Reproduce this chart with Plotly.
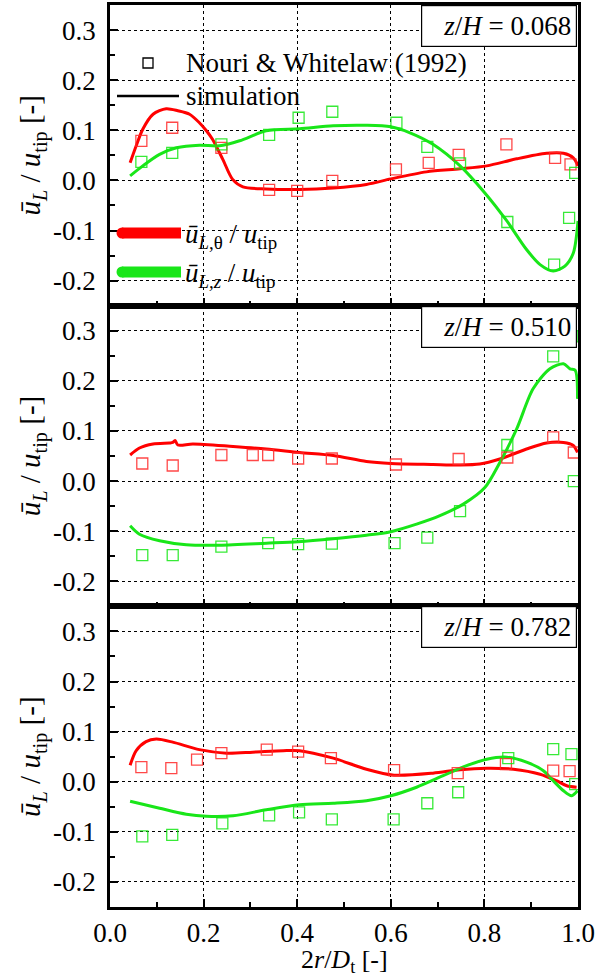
import plotly.graph_objects as go
from plotly.subplots import make_subplots

# ---------------------------------------------------------------------------
# Liquid-phase mean velocity profiles at three heights z/H
# (tangential and axial component, normalised by impeller tip speed)
# ---------------------------------------------------------------------------
heights = ["0.068", "0.510", "0.782"]

# ---- z/H = 0.068 ----
exp_x_theta_068 = [0.067, 0.133, 0.238, 0.340, 0.400, 0.475, 0.611, 0.681, 0.745, 0.847, 0.951, 0.984]
exp_theta_068 = [0.079, 0.105, 0.065, -0.019, -0.021, -0.001, 0.022, 0.035, 0.051, 0.072, 0.045, 0.032]
exp_x_z_068 = [0.067, 0.133, 0.238, 0.340, 0.403, 0.475, 0.612, 0.678, 0.748, 0.849, 0.949, 0.981, 0.994]
exp_z_068 = [0.037, 0.055, 0.072, 0.091, 0.125, 0.137, 0.115, 0.067, 0.034, -0.083, -0.168, -0.075, 0.015]

sim_x_theta_068 = [0.043, 0.056, 0.070, 0.092, 0.120, 0.145, 0.170, 0.191, 0.206, 0.219, 0.241, 0.262, 0.284,
                   0.334, 0.405, 0.477, 0.548, 0.600, 0.676, 0.748, 0.805, 0.869, 0.933, 0.969, 0.990, 1.000]
sim_theta_068 = [0.035, 0.069, 0.102, 0.132, 0.143, 0.139, 0.132, 0.115, 0.099, 0.082, 0.042, 0.002, -0.013,
                 -0.017, -0.018, -0.015, -0.008, 0.003, 0.017, 0.023, 0.029, 0.043, 0.054, 0.054, 0.045, 0.029]
sim_x_z_068 = [0.043, 0.070, 0.106, 0.142, 0.191, 0.234, 0.277, 0.334, 0.405, 0.477, 0.548, 0.600, 0.641,
               0.690, 0.748, 0.801, 0.848, 0.890, 0.919, 0.947, 0.972, 0.990, 1.000]
sim_z_068 = [0.009, 0.029, 0.052, 0.065, 0.070, 0.069, 0.079, 0.099, 0.103, 0.109, 0.110, 0.107, 0.095,
             0.072, 0.029, -0.025, -0.081, -0.138, -0.168, -0.181, -0.171, -0.145, -0.081]

# ---- z/H = 0.510 ----
exp_x_theta_510 = [0.069, 0.134, 0.238, 0.305, 0.338, 0.402, 0.474, 0.611, 0.745, 0.849, 0.947, 0.991]
exp_theta_510 = [0.035, 0.031, 0.052, 0.052, 0.052, 0.045, 0.045, 0.033, 0.044, 0.047, 0.087, 0.057]
exp_x_z_510 = [0.069, 0.134, 0.238, 0.338, 0.402, 0.474, 0.608, 0.678, 0.748, 0.849, 0.947, 0.991, 1.010]
exp_z_510 = [-0.148, -0.148, -0.131, -0.124, -0.126, -0.125, -0.124, -0.113, -0.060, 0.072, 0.249, 0.000, 0.289]

sim_x_theta_510 = [0.043, 0.063, 0.092, 0.127, 0.134, 0.139, 0.145, 0.177, 0.263, 0.334, 0.405, 0.477, 0.548,
                   0.600, 0.690, 0.748, 0.790, 0.833, 0.890, 0.933, 0.969, 0.990, 0.999]
sim_theta_510 = [0.052, 0.066, 0.074, 0.076, 0.077, 0.081, 0.072, 0.074, 0.069, 0.064, 0.057, 0.051, 0.039,
                 0.035, 0.033, 0.032, 0.034, 0.044, 0.064, 0.076, 0.077, 0.071, 0.057]
sim_x_z_510 = [0.043, 0.063, 0.106, 0.163, 0.234, 0.334, 0.402, 0.477, 0.548, 0.600, 0.655, 0.705, 0.755,
               0.801, 0.833, 0.869, 0.904, 0.940, 0.969, 0.983, 0.994, 0.999]
sim_z_510 = [-0.089, -0.106, -0.119, -0.127, -0.128, -0.124, -0.121, -0.115, -0.108, -0.101, -0.086, -0.069,
             -0.046, -0.013, 0.037, 0.104, 0.184, 0.224, 0.234, 0.224, 0.221, 0.164]

# ---- z/H = 0.782 ----
exp_x_theta_782 = [0.067, 0.131, 0.186, 0.238, 0.335, 0.402, 0.472, 0.607, 0.743, 0.846, 0.947, 0.982]
exp_theta_782 = [0.029, 0.027, 0.044, 0.057, 0.064, 0.060, 0.047, 0.023, 0.017, 0.035, 0.022, 0.021]
exp_x_z_782 = [0.069, 0.133, 0.240, 0.340, 0.404, 0.474, 0.606, 0.678, 0.744, 0.851, 0.947, 0.986, 0.994]
exp_z_782 = [-0.109, -0.106, -0.083, -0.067, -0.061, -0.075, -0.075, -0.043, -0.021, 0.047, 0.065, 0.055, -0.005]

sim_x_theta_782 = [0.043, 0.056, 0.077, 0.099, 0.134, 0.191, 0.249, 0.305, 0.370, 0.405, 0.477, 0.548, 0.607,
                   0.690, 0.748, 0.805, 0.862, 0.919, 0.954, 0.976, 0.997]
sim_theta_782 = [0.033, 0.062, 0.080, 0.085, 0.079, 0.064, 0.057, 0.059, 0.062, 0.062, 0.047, 0.025, 0.013,
                 0.017, 0.024, 0.027, 0.025, 0.015, 0.002, -0.008, -0.011]
sim_x_z_782 = [0.043, 0.106, 0.163, 0.206, 0.263, 0.334, 0.405, 0.477, 0.548, 0.600, 0.655, 0.712, 0.762,
               0.805, 0.848, 0.890, 0.926, 0.947, 0.969, 0.986, 0.999]
sim_z_782 = [-0.039, -0.053, -0.065, -0.069, -0.068, -0.056, -0.046, -0.043, -0.038, -0.028, -0.011, 0.012,
             0.032, 0.045, 0.049, 0.039, 0.022, 0.002, -0.018, -0.028, -0.018]

# axis ticks
y_ticks = [-0.2, -0.1, 0.0, 0.1, 0.2, 0.3]
y_tick_text = ["-0.2", "-0.1", "0.0", "0.1", "0.2", "0.3"]
x_ticks = [0.0, 0.2, 0.4, 0.6, 0.8, 1.0]
x_tick_text = ["0.0", "0.2", "0.4", "0.6", "0.8", "1.0"]

panels = [
    (exp_x_theta_068, exp_theta_068, exp_x_z_068, exp_z_068,
     sim_x_theta_068, sim_theta_068, sim_x_z_068, sim_z_068),
    (exp_x_theta_510, exp_theta_510, exp_x_z_510, exp_z_510,
     sim_x_theta_510, sim_theta_510, sim_x_z_510, sim_z_510),
    (exp_x_theta_782, exp_theta_782, exp_x_z_782, exp_z_782,
     sim_x_theta_782, sim_theta_782, sim_x_z_782, sim_z_782),
]

RED = "#ff0000"
GREEN = "#19e619"
RED_SQ = "rgba(255,40,40,0.85)"
GREEN_SQ = "rgba(20,230,20,0.85)"
FONT = "Times New Roman, Liberation Serif, DejaVu Serif, serif"
FS = 27

W, H = 598, 976
ML, MR, MT, MB = 110, 20, 5, 69
PW, PH = W - ML - MR, H - MT - MB


def px(xp):
    return (xp - ML) / PW


def py(yp):
    return (H - MB - yp) / PH


fig = make_subplots(rows=3, cols=1, shared_xaxes=True, vertical_spacing=0.0)

for i, (ext, eyt, exz, eyz, sxt, syt, sxz, syz) in enumerate(panels, start=1):
    fig.add_trace(go.Scatter(x=sxt, y=syt, mode="lines",
                             line=dict(color=RED, width=3, shape="spline", smoothing=0.8),
                             showlegend=False, hoverinfo="skip"), row=i, col=1)
    fig.add_trace(go.Scatter(x=sxz, y=syz, mode="lines",
                             line=dict(color=GREEN, width=3, shape="spline", smoothing=0.8),
                             showlegend=False, hoverinfo="skip"), row=i, col=1)
    fig.add_trace(go.Scatter(x=ext, y=eyt, mode="markers",
                             marker=dict(symbol="square-open", size=11, color=RED_SQ,
                                         line=dict(width=1.3, color=RED_SQ)),
                             showlegend=False), row=i, col=1)
    fig.add_trace(go.Scatter(x=exz, y=eyz, mode="markers",
                             marker=dict(symbol="square-open", size=11, color=GREEN_SQ,
                                         line=dict(width=1.3, color=GREEN_SQ)),
                             showlegend=False), row=i, col=1)

axis_common = dict(
    showline=True, linecolor="black", linewidth=2.5, mirror=True,
    showgrid=True, gridcolor="black", gridwidth=1, griddash="dot",
    zeroline=False, ticks="inside", ticklen=8, tickwidth=2, tickcolor="black",
    tickfont=dict(family=FONT, size=FS, color="black"),
)

ytitle = "<i>ū</i><sub><i>L</i></sub> / <i>u</i><sub>tip</sub> [-]"
for i in range(1, 4):
    fig.update_yaxes(
        range=[-0.25, 0.35], tickvals=y_ticks, ticktext=y_tick_text,
        minor=dict(ticks="inside", ticklen=5, tickwidth=2, tickcolor="black",
                   dtick=0.05, tick0=-0.25, showgrid=False),
        ticklabelstandoff=6,
        title=dict(text=ytitle, font=dict(family=FONT, size=29, color="black"), standoff=4),
        row=i, col=1, **axis_common)
    fig.update_xaxes(
        range=[0, 1.0], tickvals=x_ticks, ticktext=x_tick_text,
        minor=dict(ticks="inside", ticklen=5, tickwidth=2, tickcolor="black",
                   dtick=0.1, tick0=0, showgrid=False),
        showticklabels=(i == 3), row=i, col=1, **axis_common)

# panel height labels (top-right corner boxes)
annotations = []
shapes = []
for i, hz in enumerate(heights):
    ydom = fig.layout[f"yaxis{'' if i == 0 else i + 1}"].domain
    annotations.append(dict(
        x=0.998, y=ydom[1], xref="paper", yref="paper", xanchor="right", yanchor="top",
        text=f"<i>z</i>/<i>H</i> = {hz}", showarrow=False, align="right",
        font=dict(family=FONT, size=27, color="black"),
        bgcolor="white", bordercolor="black", borderwidth=1.2, borderpad=5, width=144,
    ))

# x-axis title under the bottom panel
annotations.append(dict(x=0.5, y=py(961), xref="paper", yref="paper", xanchor="center",
                        yanchor="middle", showarrow=False,
                        text="2<i>r</i>/<i>D</i><sub>t</sub> [-]",
                        font=dict(family=FONT, size=26, color="black")))

# legend: experiments / simulation
shapes.append(dict(type="rect", xref="paper", yref="paper",
                   x0=px(143), x1=px(153), y0=py(68), y1=py(58),
                   line=dict(color="black", width=1.3), fillcolor="rgba(0,0,0,0)"))
shapes.append(dict(type="line", xref="paper", yref="paper",
                   x0=px(117), x1=px(179), y0=py(96), y1=py(96),
                   line=dict(color="black", width=2.5)))
annotations.append(dict(x=px(184), y=py(63), xref="paper", yref="paper", xanchor="left",
                        yanchor="middle", showarrow=False, text="Nouri &amp; Whitelaw (1992)",
                        font=dict(family=FONT, size=FS, color="black")))
annotations.append(dict(x=px(184), y=py(96), xref="paper", yref="paper", xanchor="left",
                        yanchor="middle", showarrow=False, text="simulation",
                        font=dict(family=FONT, size=FS, color="black")))

# legend: velocity components
for yc, col, lab in [(233, RED, "<i>ū</i><sub><i>L</i>,θ</sub> / <i>u</i><sub>tip</sub>"),
                     (272, GREEN, "<i>ū</i><sub><i>L,z</i></sub> / <i>u</i><sub>tip</sub>")]:
    shapes.append(dict(type="line", xref="paper", yref="paper",
                       x0=px(122), x1=px(181), y0=py(yc), y1=py(yc),
                       line=dict(color=col, width=11)))
    shapes.append(dict(type="circle", xref="paper", yref="paper",
                       x0=px(116.5), x1=px(127.5), y0=py(yc + 5.5), y1=py(yc - 5.5),
                       line=dict(color=col, width=0), fillcolor=col))
    annotations.append(dict(x=px(183), y=py(yc + 3), xref="paper", yref="paper", xanchor="left",
                            yanchor="middle", showarrow=False, text=lab,
                            font=dict(family=FONT, size=FS, color="black")))

fig.update_layout(
    width=W, height=H,
    margin=dict(l=ML, r=MR, t=MT, b=MB, autoexpand=False),
    paper_bgcolor="white", plot_bgcolor="white",
    showlegend=False,
    annotations=annotations, shapes=shapes,
    font=dict(family=FONT, size=FS, color="black"),
)

fig.write_html("out.html")
